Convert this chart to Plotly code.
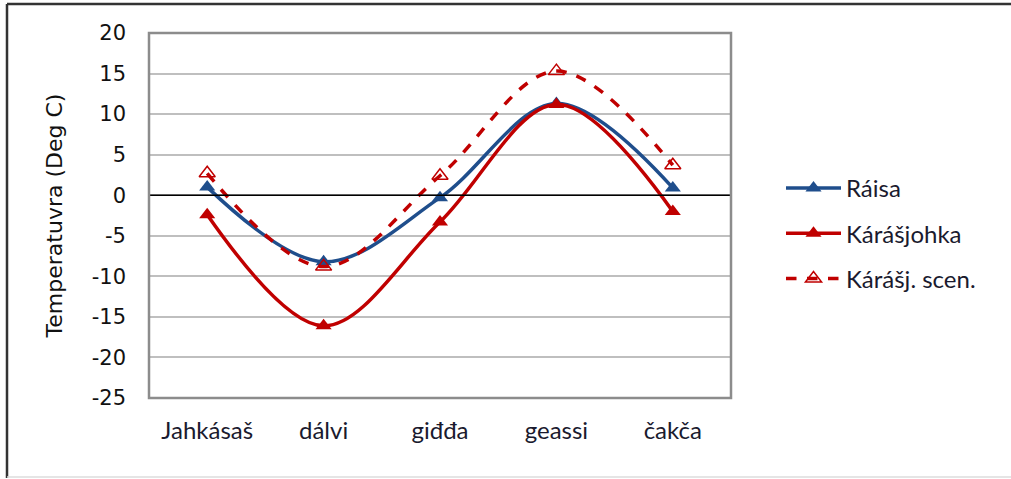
import plotly.graph_objects as go

seasons = ["Jahkásaš", "dálvi", "giđđa", "geassi", "čakča"]
raisa = [1.0, -8.2, -0.3, 11.3, 0.9]
karasjohka = [-2.4, -16.1, -3.3, 11.2, -2.0]
karasj_scen = [2.7, -8.8, 2.4, 15.3, 3.7]
y_ticks = [20, 15, 10, 5, 0, -5, -10, -15, -20, -25]

W, H = 1011, 479
L, R, T, B = 149, 731, 33, 398

blue = "#1F4E8C"
red = "#C00000"
label_font = "Lato, Open Sans, sans-serif"
num_font = "DejaVu Sans, sans-serif"

fig = go.Figure()
fig.add_trace(go.Scatter(
    x=seasons, y=raisa, name="Ráisa", mode="lines+markers", legendgroup="a",
    line=dict(color=blue, width=3.5, shape="spline", smoothing=1.0),
    marker=dict(symbol="triangle-up", size=14, color=blue)))
fig.add_trace(go.Scatter(
    x=seasons, y=karasjohka, name="Kárášjohka", mode="lines+markers", legendgroup="b",
    line=dict(color=red, width=3.5, shape="spline", smoothing=1.0),
    marker=dict(symbol="triangle-up", size=14, color=red)))
fig.add_trace(go.Scatter(
    x=seasons, y=karasj_scen, name="Kárášj. scen.", mode="lines+markers", legendgroup="c",
    line=dict(color=red, width=3.5, dash="dash", shape="spline", smoothing=1.0),
    marker=dict(symbol="triangle-up-open", size=14, color=red, line=dict(width=1.5))))

def px(x):
    return (x - L) / (R - L)

def py(y):
    return (B - y) / (B - T)

shapes = [
    dict(type="line", xref="paper", yref="y", x0=0, x1=1, y0=0, y1=0,
         line=dict(color="black", width=1.5), layer="above"),
    dict(type="rect", xref="paper", yref="paper", x0=0, x1=1, y0=0, y1=1,
         line=dict(color="#8C8C8C", width=2.5), layer="above"),
    dict(type="line", xref="paper", yref="paper", x0=px(7), x1=px(1011), y0=py(4), y1=py(4),
         line=dict(color="#333333", width=2.5)),
    dict(type="line", xref="paper", yref="paper", x0=px(7), x1=px(7), y0=py(4), y1=py(478),
         line=dict(color="#333333", width=2.5)),
    dict(type="line", xref="paper", yref="paper", x0=px(7), x1=px(1011), y0=py(477), y1=py(477),
         line=dict(color="#DDDDDD", width=1.5)),
]

fig.update_layout(
    width=W, height=H,
    margin=dict(l=L, r=W - R, t=T, b=H - B),
    paper_bgcolor="white", plot_bgcolor="white",
    showlegend=True,
    legend=dict(x=px(781), y=py(166), xanchor="left", yanchor="top",
                font=dict(family=label_font, size=24, color="#1a1a2e"),
                itemwidth=55, traceorder="grouped", tracegroupgap=11,
                bgcolor="rgba(0,0,0,0)"),
    shapes=shapes,
    xaxis=dict(categoryorder="array", categoryarray=seasons, showgrid=False,
               zeroline=False, showline=False, ticks="", ticklabelstandoff=16,
               tickfont=dict(family=label_font, size=24, color="#1a1a2e"),
               range=[-0.5, 4.5]),
    yaxis=dict(range=[-25, 20], tickvals=y_ticks, ticktext=[str(v) for v in y_ticks],
               showgrid=True, gridcolor="#BFBFBF", gridwidth=1.5, zeroline=False,
               showline=False, ticks="", ticklabelstandoff=22,
               tickfont=dict(family=num_font, size=21, color="#111111"),
               title=dict(text="Temperatuvra (Deg C)", standoff=22,
                          font=dict(family=num_font, size=22, color="#111111"))),
)

fig.write_html("out.html", config={"displayModeBar": False},
               post_script="document.body.style.margin='0';document.body.style.overflow='hidden';")
